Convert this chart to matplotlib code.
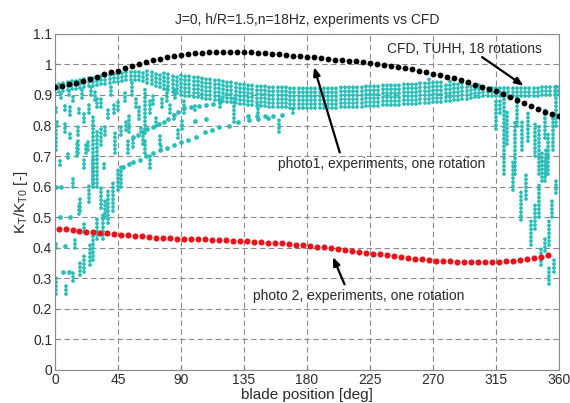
import numpy as np
import matplotlib
matplotlib.use('Agg')
import matplotlib.pyplot as plt

plt.rcParams['font.family'] = ['Liberation Sans', 'DejaVu Sans']

# CFD (TUHH, 18 rotations) - every 5 deg
cfd_x = np.arange(0, 361, 5)
cfd_y = [0.925, 0.93, 0.935, 0.94, 0.947, 0.953, 0.96, 0.967, 0.974, 0.98,
         0.987, 0.995, 1.002, 1.008, 1.014, 1.019, 1.024, 1.028, 1.031, 1.034,
         1.036, 1.038, 1.039, 1.04, 1.04, 1.04, 1.04, 1.04, 1.039, 1.038,
         1.037, 1.035, 1.033, 1.031, 1.029, 1.027, 1.025, 1.023, 1.02, 1.018,
         1.016, 1.014, 1.012, 1.01, 1.007, 1.004, 1.001, 0.998, 0.995, 0.992,
         0.989, 0.985, 0.98, 0.975, 0.97, 0.965, 0.96, 0.954, 0.948, 0.941,
         0.934, 0.927, 0.92, 0.912, 0.903, 0.894, 0.884, 0.874, 0.864, 0.854,
         0.845, 0.837, 0.83]

# photo 2 experiments
photo2_x = np.arange(2.5, 355, 5)
photo2_y = [0.462, 0.46, 0.457, 0.455, 0.453, 0.451, 0.449, 0.447, 0.445, 0.443,
            0.441, 0.439, 0.437, 0.435, 0.433, 0.432, 0.431, 0.43, 0.43, 0.429,
            0.428, 0.427, 0.426, 0.425, 0.424, 0.423, 0.422, 0.421, 0.42, 0.418,
            0.417, 0.415, 0.414, 0.412, 0.41, 0.408, 0.406, 0.404, 0.401, 0.399,
            0.396, 0.393, 0.39, 0.387, 0.384, 0.381, 0.378, 0.375, 0.372, 0.369,
            0.366, 0.364, 0.362, 0.36, 0.358, 0.356, 0.355, 0.354, 0.353, 0.352,
            0.352, 0.352, 0.353, 0.354, 0.356, 0.358, 0.361, 0.364, 0.367, 0.371,
            0.375]

# photo1 experiments: dense band (every 3 deg), upper and lower edge
band_x = np.arange(0, 361, 3)
band_hi = [0.935, 0.94, 0.942, 0.945, 0.948, 0.95, 0.953, 0.955, 0.958, 0.96, 0.963, 0.966, 0.968, 0.971, 0.974,
           0.977, 0.979, 0.981, 0.983, 0.984, 0.984, 0.983, 0.981, 0.979, 0.977, 0.975, 0.973, 0.971, 0.969, 0.967,
           0.965, 0.963, 0.962, 0.96, 0.958, 0.956, 0.954, 0.952, 0.95, 0.948, 0.946, 0.944, 0.942, 0.94, 0.938,
           0.937, 0.936, 0.934, 0.933, 0.932, 0.931, 0.93, 0.93, 0.929, 0.929, 0.93, 0.93, 0.929, 0.928, 0.93,
           0.93, 0.929, 0.93, 0.932, 0.93, 0.929, 0.93, 0.931, 0.93, 0.932, 0.93, 0.931, 0.933, 0.93, 0.932,
           0.933, 0.931, 0.934, 0.932, 0.935, 0.933, 0.936, 0.934, 0.937, 0.935, 0.938, 0.94, 0.942, 0.945, 0.955,
           0.945, 0.942, 0.948, 0.944, 0.95, 0.945, 0.943, 0.94, 0.938, 0.936, 0.935, 0.934, 0.932, 0.93, 0.93,
           0.928, 0.925, 0.928, 0.93, 0.925, 0.928, 0.93, 0.925, 0.928, 0.93, 0.93, 0.928, 0.932, 0.93, 0.935,
           0.93]
band_lo = [0.905, 0.91, 0.912, 0.915, 0.918, 0.92, 0.922, 0.925, 0.928, 0.93, 0.932, 0.935, 0.937, 0.94, 0.942,
           0.944, 0.946, 0.948, 0.95, 0.95, 0.948, 0.945, 0.94, 0.935, 0.93, 0.925, 0.92, 0.915, 0.91, 0.905,
           0.90, 0.898, 0.896, 0.894, 0.892, 0.89, 0.888, 0.886, 0.884, 0.882, 0.88, 0.878, 0.876, 0.874, 0.872,
           0.87, 0.868, 0.866, 0.865, 0.864, 0.863, 0.862, 0.861, 0.86, 0.86, 0.859, 0.858, 0.858, 0.857, 0.857,
           0.857, 0.856, 0.856, 0.856, 0.857, 0.857, 0.858, 0.858, 0.859, 0.86, 0.86, 0.861, 0.862, 0.862, 0.863,
           0.864, 0.864, 0.865, 0.866, 0.866, 0.867, 0.868, 0.868, 0.869, 0.87, 0.871, 0.872, 0.873, 0.874, 0.875,
           0.876, 0.877, 0.878, 0.879, 0.88, 0.882, 0.884, 0.886, 0.888, 0.89, 0.892, 0.894, 0.895, 0.896, 0.895,
           0.895, 0.895, 0.896, 0.897, 0.896, 0.895, 0.897, 0.898, 0.897, 0.896, 0.898, 0.9, 0.899, 0.9, 0.9,
           0.9]

# photo1 experiments: scattered streaks (angle, low, high)
left_streaks = [
    (1, 0.25, 0.31), (8, 0.25, 0.28), (13, 0.29, 0.32), (18, 0.31, 0.355), (21, 0.32, 0.38),
    (25, 0.345, 0.415), (27, 0.36, 0.44), (30, 0.43, 0.50), (34, 0.43, 0.51), (38, 0.48, 0.59),
    (41.5, 0.52, 0.62), (45, 0.59, 0.655), (1, 0.40, 0.42), (14, 0.40, 0.43), (17, 0.51, 0.54),
    (21, 0.45, 0.48), (24, 0.55, 0.61), (33, 0.53, 0.60), (36, 0.50, 0.56), (27, 0.60, 0.69),
    (21, 0.66, 0.69), (13, 0.60, 0.63), (18, 0.52, 0.56),
    (0.5, 0.72, 0.785), (3.5, 0.67, 0.69), (9, 0.695, 0.71), (16.4, 0.71, 0.75), (23.5, 0.72, 0.755),
    (27, 0.61, 0.835), (30, 0.60, 0.785), (42.7, 0.71, 0.785), (47, 0.60, 0.67), (63, 0.74, 0.785),
    (1, 0.845, 0.86), (7, 0.85, 0.87), (1.5, 0.80, 0.82), (7, 0.78, 0.81), (10.7, 0.835, 0.86),
    (13, 0.88, 0.90), (15.4, 0.70, 0.745), (16.6, 0.77, 0.80), (19, 0.89, 0.92), (21, 0.81, 0.845),
    (22, 0.71, 0.74), (24, 0.84, 0.87), (28.5, 0.885, 0.92), (33, 0.86, 0.89), (33, 0.735, 0.795),
    (35, 0.66, 0.68), (38, 0.825, 0.86), (45, 0.85, 0.88), (52, 0.71, 0.75), (53, 0.78, 0.835),
    (58, 0.86, 0.89), (64.5, 0.775, 0.92), (64, 0.71, 0.75), (67.6, 0.66, 0.70), (51, 0.785, 0.82),
    (61.5, 0.78, 0.80), (74.7, 0.74, 0.775), (85, 0.82, 0.84), (76.7, 0.86, 0.89), (50, 0.88, 0.91),
    (70, 0.87, 0.90), (80, 0.88, 0.92), (92, 0.84, 0.89), (91, 0.79, 0.82), (76, 0.72, 0.74),
    (40, 0.90, 0.93), (55, 0.90, 0.94), (60, 0.82, 0.86), (68, 0.84, 0.88), (72, 0.80, 0.83),
    (82, 0.84, 0.87), (86, 0.89, 0.92), (88, 0.76, 0.79), (56, 0.73, 0.76), (47, 0.77, 0.80),
    (42, 0.84, 0.87), (36, 0.77, 0.80), (30, 0.86, 0.89), (11, 0.76, 0.78), (4, 0.89, 0.91),
    (10, 0.90, 0.92), (17, 0.84, 0.86), (26, 0.90, 0.93),
]
mid_streaks = [
    (128, 0.81, 0.89), (160, 0.78, 0.825), (118, 0.86, 0.89), (100, 0.85, 0.87), (145, 0.84, 0.87),
    (170, 0.84, 0.86),
]
right_streaks = [
    (315, 0.79, 0.88), (321, 0.64, 0.89), (323, 0.74, 0.85), (327, 0.59, 0.69), (328.5, 0.64, 0.81),
    (333, 0.49, 0.59), (334, 0.72, 0.82), (336.5, 0.56, 0.64), (338, 0.75, 0.85), (340, 0.41, 0.49),
    (342.7, 0.46, 0.54), (342.7, 0.70, 0.81), (345.5, 0.50, 0.61), (346, 0.64, 0.80), (347, 0.345, 0.40),
    (349.8, 0.62, 0.69), (350, 0.76, 0.85), (349.8, 0.39, 0.43), (352.6, 0.41, 0.49), (352, 0.64, 0.78),
    (353, 0.28, 0.34), (355, 0.50, 0.56), (356, 0.72, 0.84), (356.4, 0.32, 0.36), (358, 0.58, 0.62),
    (358, 0.80, 0.93), (348, 0.62, 0.72), (351, 0.64, 0.73), (318, 0.84, 0.89), (330, 0.80, 0.89),
]

# photo1 experiments: isolated dots
dots_x = [48.6, 53, 56, 60.5, 65, 70, 75, 80, 85, 90, 95, 101, 107, 112, 117, 124, 131, 138.7, 145, 152,
          55.7, 59, 62.8, 66, 70, 74, 78, 81, 85, 88,
          92, 97, 103, 108, 113, 118,
          138, 144, 150, 156, 162,
          3.5, 10.7, 7, 6, 10, 4, 1, 100, 108]
dots_y = [0.664, 0.675, 0.68, 0.686, 0.70, 0.71, 0.72, 0.728, 0.737, 0.746, 0.752, 0.763, 0.778, 0.785, 0.796,
          0.80, 0.813, 0.818, 0.822, 0.826,
          0.763, 0.77, 0.78, 0.788, 0.796, 0.805, 0.813, 0.822, 0.835, 0.845,
          0.857, 0.86, 0.864, 0.868, 0.87, 0.876,
          0.83, 0.83, 0.83, 0.832, 0.835,
          0.5, 0.5, 0.405, 0.32, 0.32, 0.6, 0.6, 0.815, 0.82]

x_ticks = [0, 45, 90, 135, 180, 225, 270, 315, 360]
y_ticks = [0, 0.1, 0.2, 0.3, 0.4, 0.5, 0.6, 0.7, 0.8, 0.9, 1.0, 1.1]
y_labels = ['0', '0.1', '0.2', '0.3', '0.4', '0.5', '0.6', '0.7', '0.8', '0.9', '1', '1.1']

CYAN = '#2bbdb7'
TXT = '#2a2a2a'

fig = plt.figure(figsize=(5.7, 4.03), dpi=100)
ax = fig.add_axes([0.0965, 0.082, 0.884, 0.834])

# streaks of samples drawn as chains of round dots
streak_kw = dict(colors=CYAN, linewidths=2.8, linestyles=[(0, (0.01, 1.0))],
                 capstyle='round', zorder=2)
ax.vlines(band_x, band_lo, band_hi, **streak_kw)
for group in (left_streaks, mid_streaks, right_streaks):
    sx, slo, shi = zip(*group)
    ax.vlines(sx, slo, shi, **streak_kw)
ax.plot(dots_x, dots_y, 'o', ms=3.4, color=CYAN, mec='none', zorder=2)

ax.plot(cfd_x, cfd_y, 'o', ms=4.2, color='black', mec='none', zorder=4)
ax.plot(photo2_x, photo2_y, 'o', ms=4.4, color='#e8141b', mec='none', zorder=4)

ax.set_xlim(0, 360)
ax.set_ylim(0, 1.1)
ax.set_xticks(x_ticks)
ax.set_yticks(y_ticks)
ax.set_yticklabels(y_labels)
ax.set_axisbelow(True)
ax.grid(True, linestyle=(0, (5, 3)), color='#8a8a8a', linewidth=0.8)
ax.tick_params(direction='in', length=3, labelsize=10, colors='#808080', labelcolor=TXT, pad=2)
for sp in ax.spines.values():
    sp.set_color('#8a8a8a')

ax.set_title('J=0, h/R=1.5,n=18Hz, experiments vs CFD', fontsize=10, color=TXT, pad=7)
ax.set_xlabel('blade position [deg]', fontsize=11, color=TXT, labelpad=1)
ax.set_ylabel(r'$\mathregular{K_T/K_{T0}}$ [-]', fontsize=11, color=TXT, labelpad=2)

arrow_kw = dict(arrowstyle='-|>,head_length=0.5,head_width=0.2', color='black', lw=1.6)
ax.text(237.5, 1.052, 'CFD, TUHH, 18 rotations', fontsize=10, color=TXT, va='center')
ax.annotate('', xy=(336.4, 0.925), xytext=(303.5, 1.029), arrowprops=arrow_kw, zorder=6)
ax.text(159, 0.675, 'photo1, experiments, one rotation', fontsize=10, color=TXT, va='center')
ax.annotate('', xy=(184.5, 1.0), xytext=(204, 0.703), arrowprops=arrow_kw, zorder=6)
ax.text(141.7, 0.242, 'photo 2, experiments, one rotation', fontsize=10, color=TXT, va='center')
ax.annotate('', xy=(197.8, 0.378), xytext=(207.6, 0.272), arrowprops=arrow_kw, zorder=6)

fig.savefig('out.png', dpi=100)
